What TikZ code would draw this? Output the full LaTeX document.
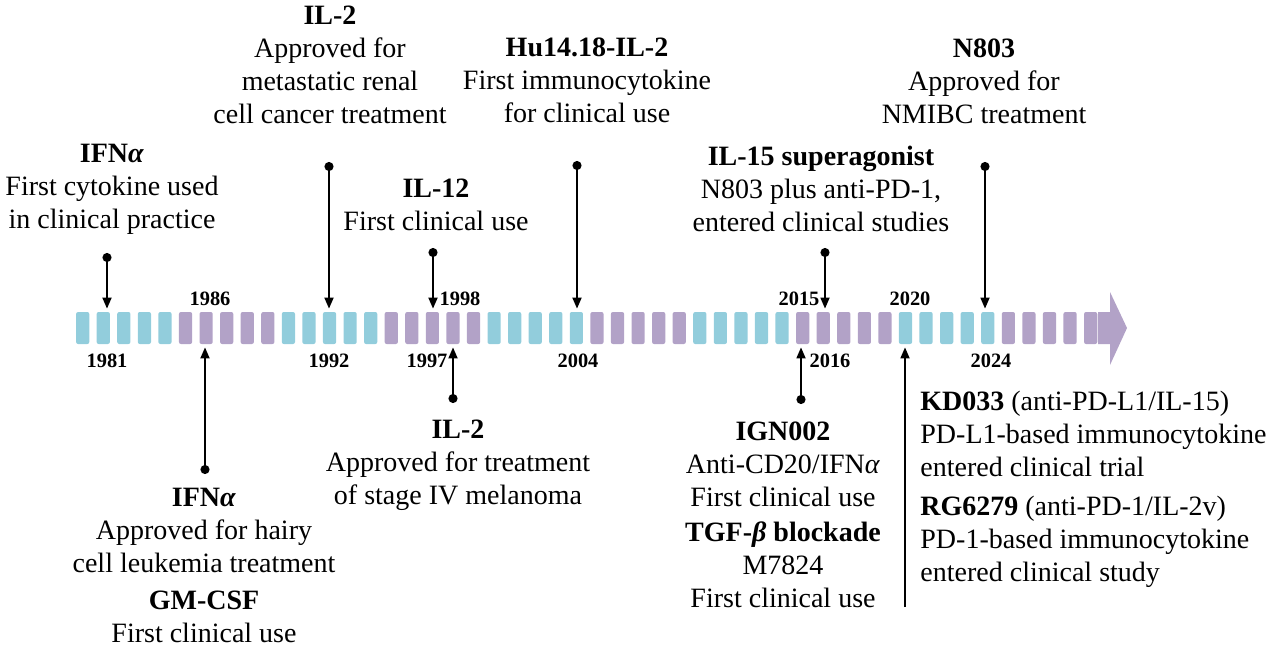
\documentclass[tikz,border=0pt]{standalone}
\usepackage{fontspec}
\setmainfont{Liberation Serif}
\usetikzlibrary{arrows.meta,positioning}
\definecolor{tlblue}{RGB}{146,205,220}
\definecolor{tlpurple}{RGB}{178,162,199}

\tikzset{
  blk/.style={rectangle, rounded corners=1pt, minimum width=6.6pt, minimum height=16pt, inner sep=0pt},
  yr/.style={font=\fontsize{10.2}{12}\selectfont\bfseries, inner sep=0pt},
  evt/.style={align=center, font=\fontsize{14}{16.5}\selectfont, inner sep=0pt},
  stalk/.style={line width=0.9pt, {Circle[length=4.5pt]}-{Triangle[length=5.5pt,width=4.5pt]}, shorten >=1.5pt},
}

\begin{document}
\begin{tikzpicture}[x=0.5pt, y=-0.5pt]
    \useasboundingbox (0,0) rectangle (1267,648);

    % Timeline blocks, one per year
    \foreach \i in {0,...,49} {
        \pgfmathtruncatemacro{\yr}{1980+\i}
        \pgfmathtruncatemacro{\grp}{mod(floor(\i/5),2)}
        \ifnum\grp=0
            \node[blk, fill=tlblue] (y\yr) at (82.7+\i*20.57,328) {};
        \else
            \node[blk, fill=tlpurple] (y\yr) at (82.7+\i*20.57,328) {};
        \fi
    }
    % Arrow head
    \fill[tlpurple] (1098,312) -- (1110,312) -- (1110,292) -- (1127,328) -- (1110,365) -- (1110,344) -- (1098,344) -- cycle;

    % Year labels
    \node[yr] (t1981) at (107,361) {1981};
    \node[yr] (t1986) at (210,299) {1986};
    \node[yr] (t1992) at (329,361) {1992};
    \node[yr] (t1997) at (427,361) {1997};
    \node[yr] (t1998) at (460,299) {1998};
    \node[yr] (t2004) at (578,361) {2004};
    \node[yr] (t2015) at (799,299) {2015};
    \node[yr] (t2016) at (830,361) {2016};
    \node[yr] (t2020) at (910,299) {2020};
    \node[yr] (t2024) at (991,361) {2024};

    % Events above the timeline
    \node[evt] (e1981) at (112,189) {\textbf{IFN\textit{α}}\\First cytokine used\\in clinical practice};
    \node[evt] (e1992) at (330,65) {\textbf{IL-2}\\Approved for\\metastatic renal\\cell cancer treatment};
    \node[evt] (e1997) at (436,205) {\textbf{IL-12}\\First clinical use};
    \node[evt] (e2004) at (587,80) {\textbf{Hu14.18-IL-2}\\First immunocytokine\\for clinical use};
    \node[evt] (e2016) at (821,189) {\textbf{IL-15 superagonist}\\N803 plus anti-PD-1,\\entered clinical studies};
    \node[evt] (e2024) at (984,81) {\textbf{N803}\\Approved for\\NMIBC treatment};

    % Events below the timeline
    \node[evt] (e1986) at (204,565) {\textbf{IFN\textit{α}}\\Approved for hairy\\cell leukemia treatment\\[2pt]\textbf{GM-CSF}\\First clinical use};
    \node[evt] (e1998) at (458,465) {\textbf{IL-2}\\Approved for treatment\\of stage IV melanoma};
    \node[evt] (e2015) at (783,515) {\textbf{IGN002}\\Anti-CD20/IFN\textit{α}\\First clinical use\\[1pt]\textbf{TGF-\textit{β} blockade}\\M7824\\First clinical use};
    \node[evt, align=left, anchor=west] (e2020) at (920,489) {\textbf{KD033} (anti-PD-L1/IL-15)\\PD-L1-based immunocytokine\\entered clinical trial\\[3pt]\textbf{RG6279} (anti-PD-1/IL-2v)\\PD-1-based immunocytokine\\entered clinical study};

    % Connectors from the events to their years
    \coordinate (d1981) at (107,253);
    \coordinate (d1992) at (329,162);
    \coordinate (d1997) at (433,248);
    \coordinate (d2004) at (577,161);
    \coordinate (d2016) at (825,248);
    \coordinate (d2024) at (985,162);
    \coordinate (d1986) at (205,474);
    \coordinate (d1998) at (453,403);
    \coordinate (d2015) at (801,404);
    \coordinate (d2020) at (905,607);
    \foreach \y in {1981,1992,1997,2004,2016,2024}
        \draw[stalk] (d\y) -- (d\y |- y\y.north);
    \foreach \y in {1986,1998,2015}
        \draw[stalk] (d\y) -- (d\y |- y\y.south);
    \draw[line width=0.9pt, -{Triangle[length=5.5pt,width=4.5pt]}, shorten >=1.5pt] (d2020) -- (d2020 |- y2020.south);
\end{tikzpicture}
\end{document}
